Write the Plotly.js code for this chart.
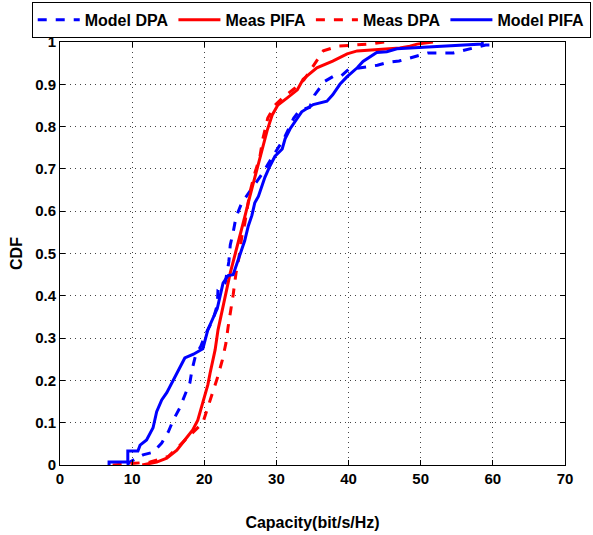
<!DOCTYPE html>
<html>
<head>
<meta charset="utf-8">
<script src="https://cdn.plot.ly/plotly-3.0.1.min.js"></script>
<style>html,body{margin:0;padding:0;background:#fff;}#chart{width:593px;height:535px;}</style>
</head>
<body>
<div id="chart"></div>
<script>
// Model DPA (blue dashed)
var modelDpaX = [9.3, 9.7, 11.5, 12.9, 14.1, 15.0, 15.7, 16.6, 17.3, 18.0, 18.3, 18.8, 19.5, 20.2, 21.2, 21.8, 21.9, 22.9, 23.4, 23.6, 24.0, 24.4, 25.2, 26.0, 26.8, 28.1, 29.5, 31.0, 32.4, 33.3, 34.6, 35.3, 36.7, 38.0, 39.0, 40.0, 44.0, 45.5, 47.0, 51.0, 54.5, 59.0, 60.0];
var modelDpaY = [0.0, 0.007, 0.024, 0.03, 0.052, 0.078, 0.106, 0.135, 0.165, 0.194, 0.225, 0.26, 0.28, 0.31, 0.343, 0.378, 0.414, 0.43, 0.48, 0.52, 0.55, 0.586, 0.62, 0.64, 0.66, 0.69, 0.73, 0.77, 0.82, 0.84, 0.845, 0.875, 0.907, 0.92, 0.92, 0.935, 0.945, 0.952, 0.955, 0.974, 0.974, 0.993, 0.993];
// Meas PIFA (red solid)
var measPifaX = [11.4, 13.4, 14.8, 16.2, 17.3, 18.4, 19.1, 19.8, 20.5, 20.8, 21.5, 21.9, 22.5, 23.1, 23.6, 24.3, 24.95, 25.6, 26.3, 26.8, 27.7, 28.7, 29.4, 30.2, 31.5, 32.9, 33.7, 35.6, 37.8, 39.8, 41.2, 43.9, 47.1, 48.5, 49.5, 51.7];
var measPifaY = [0.0, 0.007, 0.016, 0.035, 0.059, 0.083, 0.106, 0.147, 0.19, 0.217, 0.272, 0.319, 0.366, 0.414, 0.454, 0.5, 0.54, 0.586, 0.634, 0.667, 0.728, 0.79, 0.827, 0.851, 0.868, 0.887, 0.912, 0.939, 0.955, 0.972, 0.979, 0.983, 0.986, 0.99, 0.995, 1.0];
// Meas DPA (red dashed)
var measDpaX = [7.3, 9.4, 12.5, 15.0, 17.3, 18.0, 19.8, 20.5, 21.8, 22.5, 23.0, 23.3, 23.7, 24.0, 24.4, 24.8, 25.2, 25.6, 26.3, 27.0, 27.7, 28.1, 28.8, 29.8, 31.0, 32.5, 33.8, 34.6, 35.6, 36.5, 38.5, 42.7, 45.0];
var measDpaY = [0.0, 0.003, 0.007, 0.02, 0.06, 0.07, 0.1, 0.135, 0.205, 0.248, 0.288, 0.326, 0.366, 0.402, 0.454, 0.49, 0.54, 0.57, 0.643, 0.69, 0.728, 0.77, 0.82, 0.851, 0.87, 0.89, 0.91, 0.93, 0.957, 0.979, 0.99, 0.995, 1.0];
// Model PIFA (blue solid)
var modelPifaX = [6.8, 6.8, 9.4, 9.4, 10.8, 11.1, 12.0, 12.9, 13.4, 14.1, 14.8, 15.7, 16.4, 17.3, 18.5, 19.8, 20.5, 21.8, 22.6, 23.3, 24.0, 24.5, 25.0, 25.6, 26.1, 26.6, 27.0, 27.5, 28.0, 28.4, 29.1, 29.8, 30.8, 31.2, 31.9, 32.8, 33.5, 35.1, 37.0, 37.8, 38.8, 39.8, 41.2, 42.0, 43.0, 43.9, 45.3, 46.7, 51.0, 58.5, 58.6];
var modelPifaY = [0.0, 0.007, 0.007, 0.033, 0.033, 0.047, 0.059, 0.088, 0.126, 0.154, 0.171, 0.2, 0.225, 0.253, 0.262, 0.275, 0.32, 0.37, 0.43, 0.448, 0.45, 0.478, 0.5, 0.53, 0.565, 0.59, 0.62, 0.635, 0.66, 0.68, 0.707, 0.73, 0.747, 0.771, 0.795, 0.818, 0.835, 0.852, 0.86, 0.875, 0.9, 0.918, 0.939, 0.954, 0.966, 0.975, 0.977, 0.984, 0.988, 0.995, 1.0];

var xTicks = [0, 10, 20, 30, 40, 50, 60, 70];
var yTicks = [0, 0.1, 0.2, 0.3, 0.4, 0.5, 0.6, 0.7, 0.8, 0.9, 1];
var yTickText = ['0', '0.1', '0.2', '0.3', '0.4', '0.5', '0.6', '0.7', '0.8', '0.9', '1'];

var traces = [
  {x: modelDpaX, y: modelDpaY, name: 'Model DPA', mode: 'lines', line: {color: '#0000ff', width: 3, dash: 'dash'}},
  {x: measPifaX, y: measPifaY, name: 'Meas PIFA', mode: 'lines', line: {color: '#ff0000', width: 3}},
  {x: measDpaX, y: measDpaY, name: 'Meas DPA', mode: 'lines', line: {color: '#ff0000', width: 3, dash: 'dash'}},
  {x: modelPifaX, y: modelPifaY, name: 'Model PIFA', mode: 'lines', line: {color: '#0000ff', width: 3}}
];

var fontFam = '"Liberation Sans", Arial, sans-serif';
var layout = {
  width: 593, height: 535,
  margin: {l: 60, r: 28, t: 42, b: 70, autoexpand: false},
  paper_bgcolor: '#fff', plot_bgcolor: '#fff',
  font: {family: fontFam, color: '#000', size: 15, weight: 'bold'},
  showlegend: true,
  legend: {
    orientation: 'h', xref: 'paper', yref: 'paper',
    x: -0.056, xanchor: 'left', y: 1.095, yanchor: 'top',
    bordercolor: '#000', borderwidth: 1, bgcolor: '#fff',
    font: {family: fontFam, size: 16, color: '#000', weight: 'bold'},
    itemwidth: 42, tracegroupgap: 0, traceorder: 'normal'
  },
  xaxis: {
    range: [0, 70], tickvals: xTicks, ticktext: xTicks.map(String),
    showgrid: true, gridcolor: '#444', griddash: '1px,4px', gridwidth: 1,
    zeroline: false, showline: true, linecolor: '#000', linewidth: 1, mirror: 'allticks',
    ticks: 'inside', ticklen: 5, tickcolor: '#000',
    tickfont: {family: fontFam, size: 15, color: '#000', weight: 'bold'},
    title: {text: 'Capacity(bit/s/Hz)', standoff: 30, font: {family: fontFam, size: 16, color: '#000', weight: 'bold'}}
  },
  yaxis: {
    range: [0, 1], tickvals: yTicks, ticktext: yTickText,
    showgrid: true, gridcolor: '#444', griddash: '1px,4px', gridwidth: 1,
    zeroline: false, showline: true, linecolor: '#000', linewidth: 1, mirror: 'allticks',
    ticks: 'inside', ticklen: 5, tickcolor: '#000',
    tickfont: {family: fontFam, size: 15, color: '#000', weight: 'bold'},
    title: {text: 'CDF', standoff: 8, font: {family: fontFam, size: 16, color: '#000', weight: 'bold'}}
  }
};
Plotly.newPlot('chart', traces, layout, {displayModeBar: false, staticPlot: true});
</script>
</body>
</html>
